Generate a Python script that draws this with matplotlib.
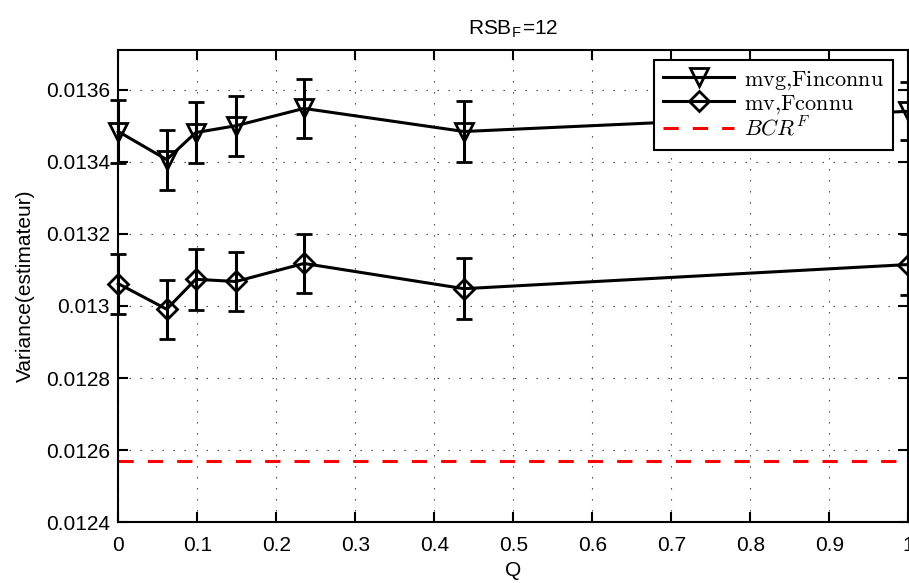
import matplotlib
matplotlib.use("Agg")
import matplotlib.pyplot as plt
from matplotlib.ticker import FixedLocator
from matplotlib.lines import Line2D

plt.rcParams['font.family'] = ['Liberation Sans', 'DejaVu Sans']
plt.rcParams['mathtext.fontset'] = 'cm'

# ---- data ----
Q = [0.0, 0.0613, 0.098, 0.149, 0.235, 0.4376, 1.0]
mvg = [0.013484, 0.013406, 0.013481, 0.013500, 0.013548, 0.013484, 0.013540]
mvg_err = [0.000088, 0.000083, 0.000084, 0.000083, 0.000082, 0.000084, 0.000080]
mv = [0.013062, 0.012991, 0.013074, 0.013068, 0.013118, 0.013048, 0.013115]
mv_err = [0.000083, 0.000082, 0.000085, 0.000083, 0.000082, 0.000084, 0.000085]
bcr = 0.01257

labels = [r'$\mathrm{mvg{,}Finconnu}$', r'$\mathrm{mv{,}Fconnu}$', r'$BCR^F$']
xticks = [0, 0.1, 0.2, 0.3, 0.4, 0.5, 0.6, 0.7, 0.8, 0.9, 1.0]
xticklabels = ['0', '0.1', '0.2', '0.3', '0.4', '0.5', '0.6', '0.7', '0.8', '0.9', '1']
yticks = [0.0124, 0.0126, 0.0128, 0.0130, 0.0132, 0.0134, 0.0136]
yticklabels = ['0.0124', '0.0126', '0.0128', '0.013', '0.0132', '0.0134', '0.0136']

fig = plt.figure(figsize=(9.09, 5.83), dpi=100)
ax = fig.add_axes([0.1301, 0.1041, 0.8691, 0.8101])

lw = 2.2
ms_v, ms_d = 13, 10
e1 = ax.errorbar(Q, mvg, yerr=mvg_err, color='black', lw=lw, marker='v', ms=ms_v,
                 mfc='none', mec='black', mew=2, capsize=6, capthick=lw,
                 elinewidth=lw, zorder=3)
e2 = ax.errorbar(Q, mv, yerr=mv_err, color='black', lw=lw, marker='D', ms=ms_d,
                 mfc='none', mec='black', mew=2, capsize=6, capthick=lw,
                 elinewidth=lw, zorder=3)
for cont in (e1, e2):
    for art in cont.get_children():
        art.set_clip_on(False)

l3, = ax.plot([0, 1], [bcr, bcr], color='red', lw=2.2, dashes=(5.0, 4.6), zorder=2)

ax.set_xlim(0, 1)
ax.set_ylim(0.0124, 0.01371)
ax.xaxis.set_major_locator(FixedLocator(xticks))
ax.set_xticklabels(xticklabels)
ax.yaxis.set_major_locator(FixedLocator(yticks))
ax.set_yticklabels(yticklabels)

ax.tick_params(direction='in', length=7, width=1.5, top=True, right=True,
               labelsize=15, colors='black')
ax.tick_params(axis='x', pad=10)
ax.tick_params(axis='y', pad=6)
for s in ax.spines.values():
    s.set_linewidth(1.5)
    s.set_color('black')

ax.grid(True, color='#333333', lw=0.8, linestyle=(0, (1.2, 8.7)))
ax.set_axisbelow(True)

ax.set_xlabel('Q', fontsize=15, labelpad=4)
ax.set_ylabel('Variance(estimateur)', fontsize=15, labelpad=8)
ax.set_title(r'RSB$_\mathregular{F}$=12', fontsize=15, pad=11)

h1 = Line2D([], [], color='black', lw=lw, marker='v', ms=ms_v, mfc='none', mec='black', mew=2)
h2 = Line2D([], [], color='black', lw=lw, marker='D', ms=ms_d, mfc='none', mec='black', mew=2)
leg = ax.legend([h1, h2, l3], labels, loc='upper right', bbox_to_anchor=(0.981, 0.979),
                borderaxespad=0, fontsize=16, frameon=True, fancybox=False, framealpha=1,
                edgecolor='black', handlelength=3.2, handletextpad=0.45,
                labelspacing=0.05, borderpad=0.4)
leg.get_frame().set_linewidth(1.5)

fig.savefig('out.png', dpi=100)
